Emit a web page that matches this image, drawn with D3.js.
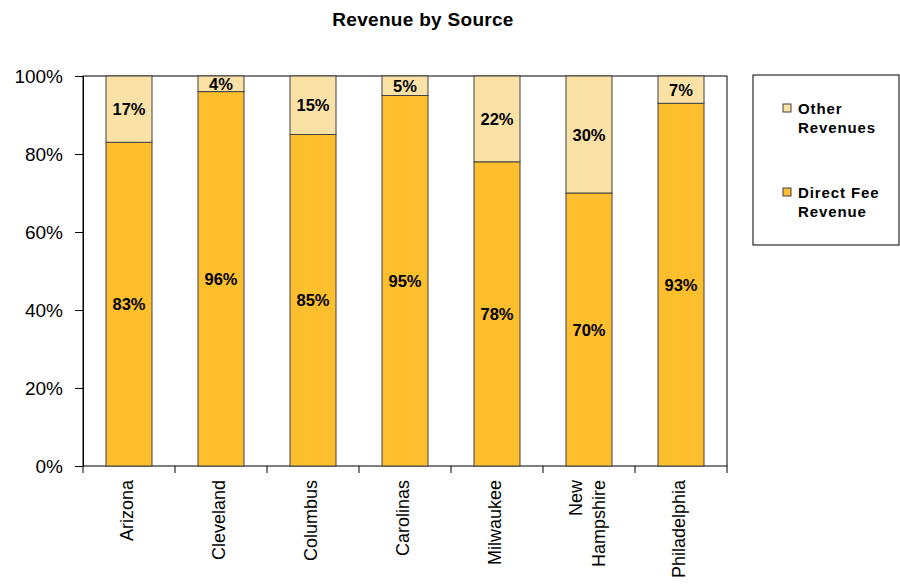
<!DOCTYPE html>
<html><head><meta charset="utf-8">
<script src="https://cdn.jsdelivr.net/npm/d3@7"></script>
<style>body{margin:0;background:#fff}svg{display:block}text{font-family:"Liberation Sans",Arial,sans-serif}</style>
</head><body><svg id="c" width="900" height="588"></svg>
<script>
const categories = ["Arizona","Cleveland","Columbus","Carolinas","Milwaukee","New Hampshire","Philadelphia"];
const directFee = [83,96,85,95,78,70,93];
const otherRev = [17,4,15,5,22,30,7];
const yTicks = [0,20,40,60,80,100];
const seriesNames = ["Other Revenues","Direct Fee Revenue"];
const colors = {direct:"#FDBF2D", other:"#FAE2A6"};

const svg = d3.select("#c");
const m = {l:83, r:727, t:76, b:466};
const x = d3.scaleBand().domain(categories).range([m.l,m.r]).paddingInner(0.5).paddingOuter(0.25);
const y = d3.scaleLinear().domain([0,100]).range([m.b,m.t]);

svg.append("text").attr("x",423).attr("y",26).attr("text-anchor","middle")
  .attr("font-weight","bold").attr("font-size",19).attr("letter-spacing",0.3).text("Revenue by Source");

// plot frame
svg.append("rect").attr("x",m.l).attr("y",m.t).attr("width",m.r-m.l).attr("height",m.b-m.t)
  .attr("fill","none").attr("stroke","#000").attr("stroke-width",1);

const data = categories.map((c,i)=>({c, d:directFee[i], o:otherRev[i]}));
const g = svg.append("g");
data.forEach(p=>{
  g.append("rect").attr("x",x(p.c)).attr("width",x.bandwidth())
    .attr("y",y(p.d)).attr("height",y(0)-y(p.d))
    .attr("fill",colors.direct).attr("stroke","#404040").attr("stroke-width",1);
  g.append("rect").attr("x",x(p.c)).attr("width",x.bandwidth())
    .attr("y",y(p.d+p.o)).attr("height",y(p.d)-y(p.d+p.o))
    .attr("fill",colors.other).attr("stroke","#404040").attr("stroke-width",1);
  const cx = x(p.c)+x.bandwidth()/2;
  g.append("text").attr("x",cx).attr("y",(y(0)+y(p.d))/2+6).attr("text-anchor","middle")
    .attr("font-weight","bold").attr("font-size",16.5).text(p.d+"%");
  g.append("text").attr("x",cx).attr("y",(y(p.d)+y(p.d+p.o))/2+6).attr("text-anchor","middle")
    .attr("font-weight","bold").attr("font-size",16.5).text(p.o+"%");
});

// y axis
const ya = svg.append("g").attr("transform",`translate(${m.l},0)`)
  .call(d3.axisLeft(y).tickValues(yTicks).tickFormat(d=>d+"%").tickSize(8).tickPadding(12));
ya.select(".domain").attr("stroke","#000");
ya.selectAll("line").attr("stroke","#000");
ya.selectAll("text").attr("font-size",19).attr("font-family","Liberation Sans, Arial, sans-serif").attr("fill","#000");

// x axis ticks at band boundaries
const xa = svg.append("g");
for(let k=0;k<=categories.length;k++){
  const px = m.l + k*(m.r-m.l)/categories.length;
  xa.append("line").attr("x1",px).attr("x2",px).attr("y1",m.b).attr("y2",m.b+7).attr("stroke","#000");
}
categories.forEach(c=>{
  const cx = x(c)+x.bandwidth()/2;
  const lines = c==="New Hampshire" ? ["New","Hampshire"] : [c];
  const t = xa.append("text").attr("transform",`translate(${cx},${m.b+14}) rotate(-90)`)
    .attr("text-anchor","end").attr("font-size",18);
  lines.forEach((ln,i)=>{
    t.append("tspan").attr("x",0).attr("dy", i===0 ? (lines.length===1? 4 : -7) : 23).text(ln);
  });
});

// legend
const lg = svg.append("g");
lg.append("rect").attr("x",753).attr("y",75).attr("width",146).attr("height",170)
  .attr("fill","#fff").attr("stroke","#000");
const legItems = [{n:["Other","Revenues"],c:colors.other,y:114},{n:["Direct Fee","Revenue"],c:colors.direct,y:198}];
legItems.forEach(it=>{
  lg.append("rect").attr("x",783).attr("y",it.y-10).attr("width",8).attr("height",8)
    .attr("fill",it.c).attr("stroke","#404040");
  const t = lg.append("text").attr("x",798).attr("y",it.y).attr("font-weight","bold")
    .attr("font-size",15).attr("letter-spacing",0.9);
  t.append("tspan").attr("x",798).attr("dy",0).text(it.n[0]);
  t.append("tspan").attr("x",798).attr("dy",19).text(it.n[1]);
});
</script></body></html>
